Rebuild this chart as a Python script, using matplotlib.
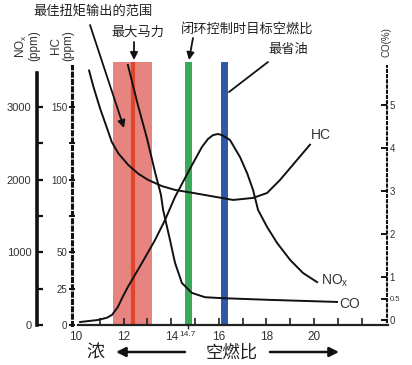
import matplotlib
matplotlib.use("Agg")
import matplotlib.pyplot as plt

# ---------------- data ----------------
afr_nox = [10.17, 10.92, 11.30, 11.51, 11.76, 11.95, 12.18, 12.77, 13.32, 13.74, 14.16, 14.79,
           15.29, 15.55, 15.76, 15.97, 16.13, 16.47, 16.89, 17.20, 17.44, 17.65, 18.03, 18.45,
           19.0, 19.54, 20.13]
nox = [41, 69, 100, 138, 248, 380, 523, 853, 1169, 1444, 1761, 2150,
       2448, 2560, 2613, 2627, 2613, 2545, 2311, 2080, 1857, 1582, 1348, 1128,
       894, 715, 590]

afr_hc = [10.55, 10.73, 11.01, 11.29, 11.50, 11.78, 12.20, 12.62, 13.04, 13.60,
          14.16, 14.86, 15.42, 16.60, 17.44, 18.03, 18.57, 19.83]
hc = [175, 164, 149, 136, 126, 118, 110, 104, 99.7, 95.6,
      92.9, 91.0, 89.4, 86.0, 87.4, 90.8, 99.7, 124]

afr_co = [12.18, 12.6, 12.98, 13.32, 13.57, 13.66, 13.95, 14.16, 14.45, 14.87,
          15.42, 16.05, 18.03, 20.97]
co = [5.93, 5.0, 4.23, 3.44, 2.91, 2.56, 1.86, 1.33, 0.86, 0.63,
      0.53, 0.51, 0.47, 0.42]

torque_band = [11.55, 13.2]
max_power_afr = 12.4
stoich_afr = 14.7
economy_afr = 16.2

x_ticks = list(range(10, 23))
x_labels = ["10", "", "12", "", "14", "", "16", "", "18", "", "20", "", ""]
nox_ticks = [0, 1000, 2000, 3000]
nox_minor = [500, 1500, 2500]
hc_ticks = [0, 25, 50, 100, 150]
hc_minor = [75, 125]
co_ticks = [0, 0.5, 1, 2, 3, 4, 5]
co_labels = ["0", "0.5", "1", "2", "3", "4", "5"]

# ---------------- figure ----------------
W, H = 412, 365
fig = plt.figure(figsize=(W / 100, H / 100), dpi=100)
plt.rcParams['font.family'] = ['Liberation Sans', 'DejaVu Sans']
plt.rcParams['mathtext.fontset'] = 'custom'
plt.rcParams['mathtext.rm'] = 'Liberation Sans'
CJK = ['Noto Sans CJK SC', 'DejaVu Sans']
TXT = '#222222'

def fx(px):
    return px / W

def fy(py):
    return 1 - py / H

ax_l, ax_r, ax_t, ax_b = 76, 388, 62, 325
ax = fig.add_axes([fx(ax_l), fy(ax_b), (ax_r - ax_l) / W, (ax_b - ax_t) / H])
px_per_unit = 23.8
ax.set_xlim(10, 10 + (ax_r - ax_l) / px_per_unit)
nox_per_px = 1000 / 72.7
ax.set_ylim(0, (ax_b - ax_t) * nox_per_px)

ax_hc = ax.twinx()
ax_hc.set_ylim(0, (ax_b - ax_t) * nox_per_px / 20)
ax_co = ax.twinx()
co_per_px = 1 / 43.0
ax_co.set_ylim(-5 * co_per_px, (320 - ax_t) * co_per_px)

for a in (ax, ax_hc, ax_co):
    for s in a.spines.values():
        s.set_visible(False)
    a.patch.set_visible(False)

# bands & bars
ax.axvspan(torque_band[0], torque_band[1], color='#e8847f', lw=0, zorder=1)
ax.axvline(max_power_afr, color='#e0462c', lw=3.0, zorder=2)
ax.axvline(stoich_afr, color='#3aa856', lw=5.0, zorder=2)
ax.axvline(economy_afr, color='#2e59a6', lw=5.0, zorder=2)

# curves
ax.plot(afr_nox, nox, color='#111111', lw=1.4, zorder=5)
ax_hc.plot(afr_hc, hc, color='#111111', lw=1.4, zorder=5)
ax_co.plot(afr_co, co, color='#111111', lw=1.4, zorder=5)

# bottom axis
ax.spines['bottom'].set_visible(True)
ax.spines['bottom'].set_linewidth(1.6)
ax.spines['bottom'].set_color('#222222')
ax.spines['bottom'].set_bounds(10.1, ax.get_xlim()[1])
ax.set_xticks(x_ticks)
ax.set_xticklabels(x_labels)
ax.tick_params(axis='x', which='major', direction='in', length=5, width=1.2,
               colors='#222222', labelsize=8.5, pad=4, labelcolor='#333333')
ax.xaxis.get_major_ticks()[0].tick1line.set_visible(False)
ax.set_xticks([stoich_afr], minor=True)
ax.set_xticklabels(["14.7"], minor=True)
ax.tick_params(axis='x', which='minor', direction='out', length=3, width=1.0,
               labelsize=6, pad=1.5, colors='#222222', labelcolor='#333333')

# NOx axis (left, solid)
sp = ax.spines['left']
sp.set_visible(True)
sp.set_position(('outward', (ax_l - 37) * 0.72))
sp.set_linewidth(2.6)
sp.set_color('#111111')
sp.set_bounds(0, (ax_b - 73) * nox_per_px)
ax.set_yticks(nox_ticks)
ax.set_yticks(nox_minor, minor=True)
ax.tick_params(axis='y', which='both', direction='in', length=4.5, width=1.6,
               colors='#111111', labelsize=8, pad=4, labelcolor='#333333')

# HC axis (left, dotted)
sp = ax_hc.spines['left']
sp.set_visible(True)
sp.set_position(('outward', (ax_l - 72) * 0.72))
sp.set_linewidth(2.2)
sp.set_linestyle((0, (1.0, 1.4)))
sp.set_color('#111111')
sp.set_bounds(0, (ax_b - 66) * nox_per_px / 20)
ax_hc.yaxis.set_ticks_position('left')
ax_hc.yaxis.set_label_position('left')
ax_hc.set_yticks(hc_ticks)
ax_hc.set_yticks(hc_minor, minor=True)
ax_hc.tick_params(axis='y', which='both', direction='inout', length=5, width=1.4,
                  colors='#111111', labelsize=7, pad=1, labelcolor='#333333')

# CO axis (right, dotted)
sp = ax_co.spines['right']
sp.set_visible(True)
sp.set_position(('outward', -1))
sp.set_linewidth(1.5)
sp.set_linestyle((0, (1.0, 1.5)))
sp.set_color('#111111')
sp.set_bounds(-0.05, (320 - 66) * co_per_px)
ax_co.set_yticks(co_ticks)
ax_co.set_yticklabels(co_labels)
ax_co.tick_params(axis='y', which='both', direction='in', length=4, width=1.4,
                  colors='#111111', labelsize=7, pad=2, labelcolor='#333333')
for lbl in ax_co.get_yticklabels():
    if lbl.get_text() == "0.5":
        lbl.set_fontsize(5.5)

# axis titles
fig.text(fx(27), fy(46), "NO$_\\mathrm{x}$\n(ppm)", rotation=90, ha='center', va='center',
         fontsize=8.5, color='#333333', linespacing=1.0)
fig.text(fx(62), fy(46), "HC\n(ppm)", rotation=90, ha='center', va='center',
         fontsize=8.5, color='#333333', linespacing=1.0)
fig.text(fx(387), fy(42), "CO(%)", rotation=90, ha='center', va='center',
         fontsize=7, color='#333333')

# curve labels
fig.text(fx(311), fy(135), "HC", ha='left', va='center', fontsize=10, color='#333333')
fig.text(fx(321), fy(281), "NO$_\\mathrm{x}$", ha='left', va='center', fontsize=10, color='#333333')
fig.text(fx(339), fy(304), "CO", ha='left', va='center', fontsize=10, color='#333333')

# annotations (Chinese)
arrow_kw = dict(arrowstyle='-|>', lw=1.3, color='#111111', mutation_scale=11,
                shrinkA=0, shrinkB=0)
fig.text(fx(93), fy(12), "最佳扭矩输出的范围", ha='center', va='center',
         fontsize=9.5, family=CJK, color=TXT)
fig.add_artist(matplotlib.patches.FancyArrowPatch(
    (fx(90), fy(25)), (fx(124), fy(128)), transform=fig.transFigure, **arrow_kw))

fig.text(fx(138), fy(32), "最大马力", ha='center', va='center',
         fontsize=9.5, family=CJK, color=TXT)
fig.add_artist(matplotlib.patches.FancyArrowPatch(
    (fx(134), fy(42)), (fx(134), fy(60)), transform=fig.transFigure, **arrow_kw))

fig.text(fx(247), fy(29), "闭环控制时目标空燃比", ha='center', va='center',
         fontsize=9.5, family=CJK, color=TXT)
fig.add_artist(matplotlib.patches.FancyArrowPatch(
    (fx(193), fy(38)), (fx(189), fy(60)), transform=fig.transFigure, **arrow_kw))

fig.text(fx(288), fy(50), "最省油", ha='center', va='center',
         fontsize=9.5, family=CJK, color=TXT)
fig.add_artist(matplotlib.patches.FancyArrowPatch(
    (fx(268), fy(62)), (fx(229), fy(92)), transform=fig.transFigure,
    arrowstyle='-', lw=1.3, color='#111111', shrinkA=0, shrinkB=0))

# bottom direction labels
fig.text(fx(95), fy(352), "浓", ha='center', va='center', fontsize=13,
         family=CJK, color=TXT)
fig.text(fx(232), fy(353), "空燃比", ha='center', va='center', fontsize=12.5,
         family=CJK, color=TXT)
big_arrow = dict(arrowstyle='-|>', lw=1.8, color='#111111', mutation_scale=14,
                 shrinkA=0, shrinkB=0)
fig.add_artist(matplotlib.patches.FancyArrowPatch(
    (fx(185), fy(352)), (fx(116), fy(352)), transform=fig.transFigure, **big_arrow))
fig.add_artist(matplotlib.patches.FancyArrowPatch(
    (fx(270), fy(352)), (fx(339), fy(352)), transform=fig.transFigure, **big_arrow))

fig.savefig("out.png", dpi=100, facecolor='white')
